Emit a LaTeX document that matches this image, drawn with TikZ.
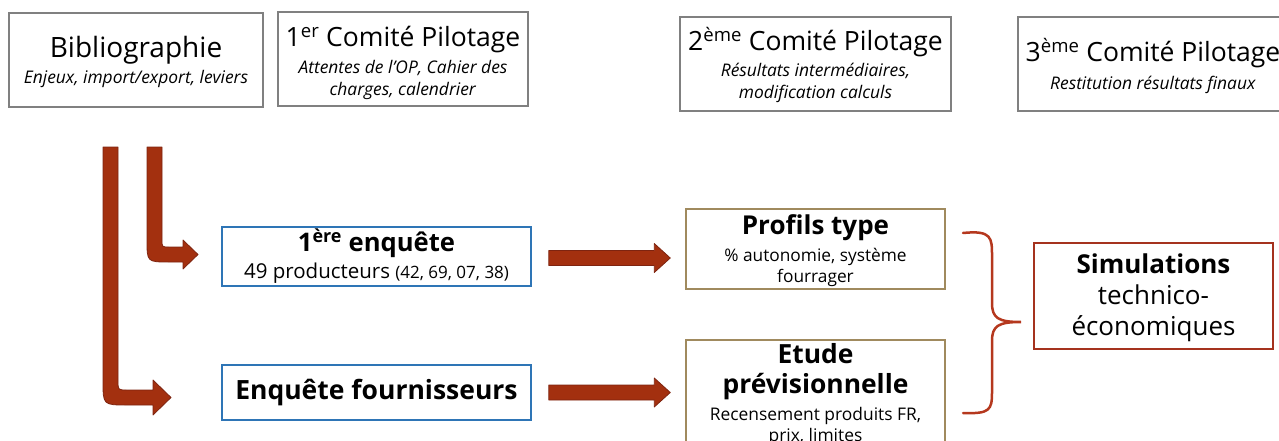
\documentclass[tikz,border=0pt]{standalone}
\usepackage{fontspec}
\setmainfont{Open Sans}
\usetikzlibrary{calc}
\definecolor{grayb}{HTML}{808080}
\definecolor{blueb}{HTML}{2E75B6}
\definecolor{tanb}{HTML}{A08A5E}
\definecolor{redb}{HTML}{A5321E}
\definecolor{arrfill}{HTML}{A3300F}
\definecolor{arrline}{HTML}{7E2410}
\definecolor{bracec}{HTML}{B5381E}
\newcommand\fsz[1]{\fontsize{#1}{#1}\selectfont}
\newcommand\hblock[2]{%
  \filldraw[blockarrow] let \p1=#1, \p2=#2 in
    (\x1,\y1+7.5pt) -- (\x2-16pt,\y1+7.5pt) -- (\x2-16pt,\y1+14.5pt) -- (\x2,\y1)
    -- (\x2-16pt,\y1-14.5pt) -- (\x2-16pt,\y1-7.5pt) -- (\x1,\y1-7.5pt) -- cycle;}
\begin{document}
\begin{tikzpicture}[x=1pt,y=-1pt,
  box/.style={draw, line width=1.5pt, align=center, inner sep=2pt},
  topbox/.style={box, draw=grayb},
  bluebox/.style={box, draw=blueb},
  tanbox/.style={box, draw=tanb},
  redbox/.style={box, draw=redb},
  blockarrow/.style={fill=arrfill, draw=arrline, line width=0.8pt, line join=round}]
\useasboundingbox (0,0) rectangle (1279,441);
\clip (0,0) rectangle (1279,441);

\node[topbox, minimum width=254pt, minimum height=94pt, font=\fontsize{17.4}{26}\selectfont] (bib) at (136,60)
  {{\fsz{28}\rule{0pt}{26pt}Bibliographie}\\\textit{Enjeux, import/export, leviers}};
\node[topbox, minimum width=250pt, minimum height=94pt, font=\fontsize{17.4}{22}\selectfont] (c1) at (403,59)
  {{\fsz{26.5}\rule{0pt}{28pt}1\textsuperscript{er} Comité Pilotage}\\[5pt]\textit{Attentes de l’OP, Cahier des}\\\textit{charges, calendrier}};
\node[topbox, minimum width=271pt, minimum height=94pt, font=\fontsize{17.4}{22}\selectfont] (c2) at (815.5,64)
  {{\fsz{26.5}\rule{0pt}{26pt}2\textsuperscript{ème} Comité Pilotage}\\[4pt]\textit{Résultats intermédiaires,}\\\textit{modification calculs}};
\node[topbox, minimum width=270pt, minimum height=94pt, font=\fontsize{17.4}{28}\selectfont] (c3) at (1153,64)
  {{\fsz{26.5}\rule{0pt}{28pt}3\textsuperscript{ème} Comité Pilotage}\\\textit{Restitution résultats finaux}};

\node[bluebox, minimum width=309pt, minimum height=55pt, font=\fontsize{20.5}{27}\selectfont] (e1) at (376.5,256.5)
  {{\fsz{25.6}\bfseries 1\textsuperscript{ère} enquête}\\49 producteurs {\fsz{17}(42, 69, 07, 38)}};
\node[bluebox, minimum width=309pt, minimum height=55pt] (e2) at (376.5,392.5)
  {\fsz{26.5}\bfseries Enquête fournisseurs};

\node[tanbox, minimum width=259pt, minimum height=78pt, font=\fontsize{17.3}{21}\selectfont] (pt) at (815.5,249)
  {{\fsz{26}\bfseries\rule{0pt}{24pt}Profils type}\\[6pt]\% autonomie, système\\fourrager};
\node[tanbox, minimum width=259pt, minimum height=110pt, font=\fontsize{17.4}{21}\selectfont] (ep) at (815.5,395)
  {{\fsz{26.4}\bfseries Etude}\\[9pt]{\fsz{26.4}\bfseries prévisionnelle}\\[6pt]Recensement produits FR,\\prix, limites};

\node[redbox, minimum width=239pt, minimum height=106pt, font=\fontsize{26}{31}\selectfont] (sim) at (1153.5,296)
  {\rule{0pt}{24pt}\textbf{Simulations}\\technico-\\économiques};

% bent arrows from Bibliographie
\filldraw[blockarrow] (147,147) -- (147,240) .. controls (147,262) .. (169,262) -- (183,262)
  -- (183,269) -- (198,254.5) -- (183,240) -- (183,247) -- (169,247)
  .. controls (162,247) .. (162,240) -- (162,147) -- cycle;
\filldraw[blockarrow] (103,147) -- (103,381) .. controls (103,405) .. (127,405) -- (153,405)
  -- (153,415) -- (171,397.5) -- (153,380) -- (153,390) -- (127,390)
  .. controls (118,390) .. (118,381) -- (118,147) -- cycle;

% horizontal block arrows
\hblock{($(e1.east)+(17,1.5)$)}{($(pt.west)+(-15,0)$)}
\hblock{($(e2.east)+(17,0)$)}{($(pt.west |- e2.east)+(-15,0)$)}

% brace
\draw[bracec, line width=2.5pt, line cap=round]
  (963,233) .. controls (992,230) and (992,238) .. (992,256) -- (992,303)
  .. controls (992,318) and (998,322) .. (1021,322)
  .. controls (998,322) and (992,326) .. (992,341) -- (992,392)
  .. controls (992,410) and (990,414) .. (963,413);
\end{tikzpicture}
\end{document}
